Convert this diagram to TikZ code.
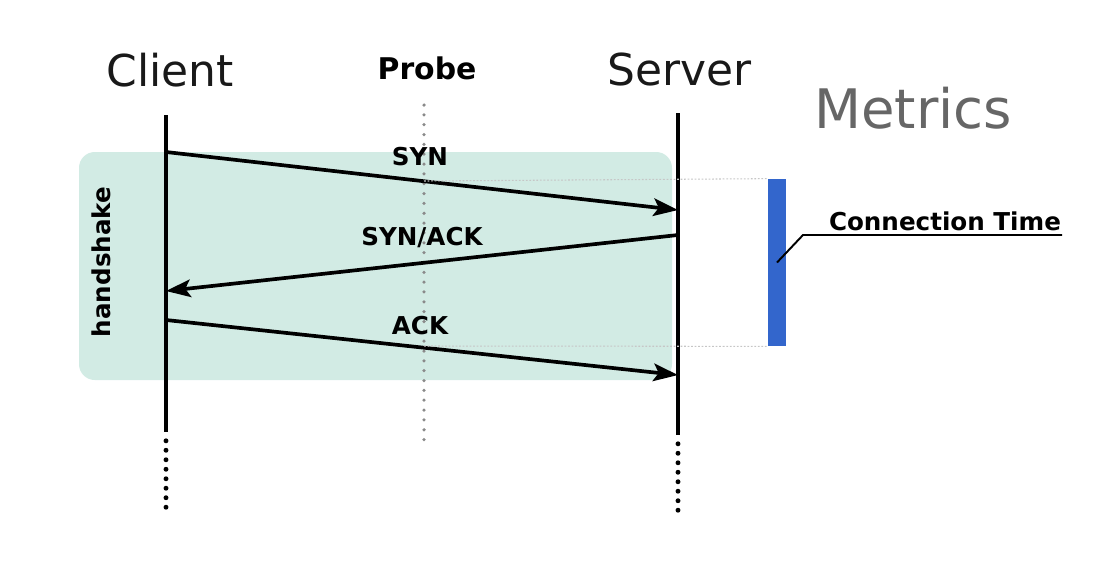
\documentclass[tikz,border=0pt]{standalone}
\usepackage{fontspec}
\setmainfont{DejaVu Sans}
\usetikzlibrary{arrows.meta,positioning}
\definecolor{shakebg}{HTML}{D2EBE4}
\definecolor{metricblue}{HTML}{3366CC}
\definecolor{probegray}{HTML}{8A8A8A}

\begin{document}
\begin{tikzpicture}
	\tikzstyle{every node}=[inner sep=0pt]
	\tikzstyle{lifeline}=[line width=2.8pt]
	\tikzstyle{lifedots}=[line width=2.8pt, line cap=round, dash pattern=on 0pt off 5.4pt]
	\tikzstyle{msg}=[line width=2.1pt, ->, >={Stealth[length=14pt,width=10pt,inset=3pt]}]
	\tikzstyle{msglabel}=[font=\bfseries\fontsize{14}{16}\selectfont]
	\tikzstyle{guide}=[line width=0.6pt, gray!45, dash pattern=on 1pt off 1pt]
	\useasboundingbox (0,0) rectangle (22.1,-11.62);
	% handshake area
	\fill [shakebg, rounded corners=9pt] (1.58,-3.04) rectangle (13.44,-7.6);
	\node [rotate=90, font=\bfseries\fontsize{14}{16}\selectfont] (shake) at (2.02,-5.24) {handshake};
	% headers
	\node [font=\fontsize{25}{28}\selectfont, text=black!90] (client) at (3.4,-1.4) {Client};
	\node [font=\bfseries\fontsize{17}{20}\selectfont] (probe) at (8.54,-1.36) {Probe};
	\node [font=\fontsize{25}{28}\selectfont, text=black!90] (server) at (13.6,-1.4) {Server};
	\node [font=\fontsize{31}{34}\selectfont, text=black!60] (metrics) at (18.26,-2.16) {Metrics};
	% lifeline points
	\coordinate (c top) at (3.32,-2.3);
	\coordinate (c end) at (3.32,-8.64);
	\coordinate (c dot) at (3.32,-10.3);
	\coordinate (s top) at (13.56,-2.26);
	\coordinate (s end) at (13.56,-8.7);
	\coordinate (s dot) at (13.56,-10.3);
	\coordinate (p top) at (8.48,-2.1);
	\coordinate (p end) at (8.48,-8.8);
	\draw [line width=2pt, probegray, line cap=round, dash pattern=on 0pt off 5.6pt] (p top) -- (p end);
	\draw [lifeline] (c top) -- (c end);
	\draw [lifedots] ([yshift=-5pt]c end) -- (c dot);
	\draw [lifeline] (s top) -- (s end);
	\draw [lifedots] ([yshift=-5pt]s end) -- (s dot);
	% messages
	\coordinate (syn a) at (3.32,-3.04);
	\coordinate (syn b) at (13.56,-4.2);
	\coordinate (sa a) at (13.56,-4.7);
	\coordinate (sa b) at (3.32,-5.82);
	\coordinate (ack a) at (3.32,-6.4);
	\coordinate (ack b) at (13.56,-7.5);
	\draw [msg] (syn a) -- (syn b);
	\draw [msg] (sa a) -- (sa b);
	\draw [msg] (ack a) -- (ack b);
	\node [msglabel] (syn) at (8.4,-3.14) {SYN};
	\node [msglabel] (synack) at (8.44,-4.76) {SYN/ACK};
	\node [msglabel] (ack) at (8.4,-6.52) {ACK};
	% connection time
	\node [fill=metricblue, minimum width=0.36cm, minimum height=3.34cm] (bar) at (15.54,-5.25) {};
	\draw [guide] (8.48,-3.62) -- (bar.north west);
	\draw [guide] (8.48,-6.92) -- (bar.south west);
	\node [font=\bfseries\fontsize{14}{16}\selectfont, anchor=base] (conn) at (18.9,-4.6) {Connection Time};
	\coordinate (lead) at (16.06,-4.7);
	\draw [line width=1.1pt] (bar.center) -- (lead) -- (21.24,-4.7);
\end{tikzpicture}
\end{document}
